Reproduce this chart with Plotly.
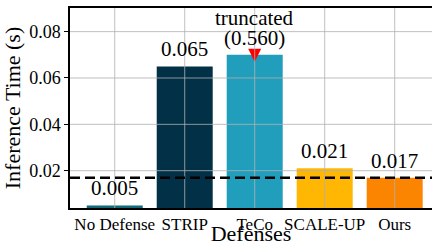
import plotly.graph_objects as go

# ---- data ----
categories = ["No Defense", "STRIP", "TeCo", "SCALE-UP", "Ours"]
inference_time = [0.005, 0.065, 0.560, 0.021, 0.017]
bar_colors = ["#106b78", "#023047", "#219ebc", "#ffb703", "#fb8500"]
truncate_at = 0.070
y_ticks = [0.02, 0.04, 0.06, 0.08]
y_tick_labels = ["0.02", "0.04", "0.06", "0.08"]
reference_method = "Ours"

FONT = "Liberation Serif, Times New Roman, serif"

idx = list(range(len(categories)))
shown = [min(v, truncate_at) for v in inference_time]

fig = go.Figure()
fig.add_trace(go.Bar(
    x=idx, y=shown, width=0.8,
    marker=dict(color=bar_colors, line=dict(width=0)),
    showlegend=False, hoverinfo="skip",
))

# truncation marker
trunc_x = [i for i, v in zip(idx, inference_time) if v > truncate_at]
fig.add_trace(go.Scatter(
    x=trunc_x, y=[truncate_at] * len(trunc_x), mode="markers",
    marker=dict(symbol="arrow-down", size=13, standoff=7, color="#ff0000", line=dict(width=0)),
    showlegend=False, hoverinfo="skip",
))

annotations = []
for i, v, s in zip(idx, inference_time, shown):
    if v > truncate_at:
        label = f"({v:.3f})"
        annotations.append(dict(x=i, y=s, xref="x", yref="y", text="truncated",
                                showarrow=False, yanchor="bottom", yshift=23,
                                font=dict(family=FONT, size=21, color="black")))
    else:
        label = f"{v:.3f}"
    annotations.append(dict(x=i, y=s, xref="x", yref="y", text=label,
                            showarrow=False, yanchor="bottom", yshift=3,
                            font=dict(family=FONT, size=21, color="black")))

grid_col = "rgba(176,176,176,0.8)"
shapes = []
for i in idx:
    shapes.append(dict(type="line", xref="x", yref="paper", x0=i, x1=i, y0=0, y1=1,
                       line=dict(color=grid_col, width=1), layer="above"))
for t in y_ticks:
    shapes.append(dict(type="line", xref="paper", yref="y", x0=0, x1=1, y0=t, y1=t,
                       line=dict(color=grid_col, width=1), layer="above"))
ref_val = inference_time[categories.index(reference_method)]
shapes.append(dict(type="line", xref="paper", yref="y", x0=0, x1=1, y0=ref_val, y1=ref_val,
                   line=dict(color="black", width=2.5, dash="10px,5px"), layer="above"))

fig.update_layout(
    width=432, height=246,
    margin=dict(l=70, r=0, t=8, b=38),
    paper_bgcolor="white", plot_bgcolor="white",
    font=dict(family=FONT, color="black"),
    annotations=annotations, shapes=shapes,
    bargap=0.2,
)
fig.update_xaxes(
    range=[-0.639, 4.533], tickvals=idx, ticktext=categories,
    showgrid=False, zeroline=False, automargin=False,
    showline=True, linecolor="black", linewidth=1.5, mirror=True,
    ticks="", tickfont=dict(family=FONT, size=17, color="black"),
    title=dict(text="Defenses", font=dict(family=FONT, size=22, color="black"), standoff=0),
)
fig.update_yaxes(
    range=[0.0039, 0.0902], tickvals=y_ticks, ticktext=y_tick_labels,
    showgrid=False, zeroline=False, automargin=False,
    showline=True, linecolor="black", linewidth=1.5, mirror=False,
    ticks="outside", ticklen=4, tickcolor="black", tickwidth=1,
    tickfont=dict(family=FONT, size=18, color="black"),
    title=dict(text="Inference Time (s)", font=dict(family=FONT, size=22, color="black"), standoff=2),
)

fig.write_html("out.html", config={"displayModeBar": False},
               post_script="document.body.style.margin='0';document.body.style.overflow='hidden';")
